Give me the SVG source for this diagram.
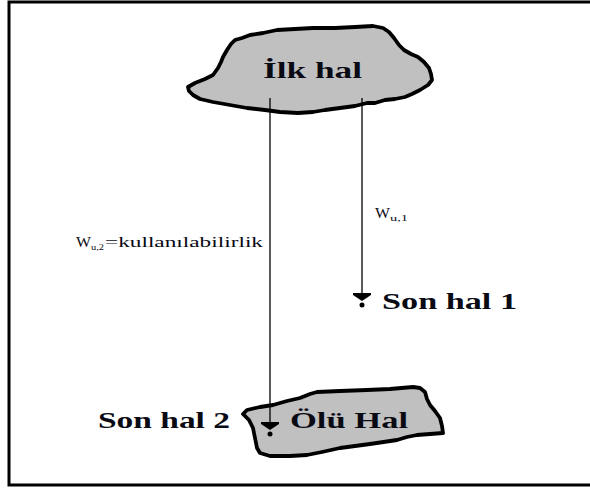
<svg xmlns="http://www.w3.org/2000/svg" width="590" height="488" viewBox="0 0 590 488">
<style>
.blob{fill:#c0c0c0;stroke:#000;stroke-width:3.8;stroke-linejoin:round}
.big{font-family:"Liberation Serif","Times New Roman",serif;font-weight:bold;font-size:24px;fill:#0a0a14}
.small{font-family:"Liberation Serif","Times New Roman",serif;font-size:15px;fill:#0a0a14}
.sub{font-family:"Liberation Serif","Times New Roman",serif;font-size:8px;fill:#0a0a14}
.conn{stroke:#000;stroke-width:1.3;fill:none}
</style>
<defs>
<g id="ahead">
<polygon points="-9,-1 9,-1 9,1 0,7 -9,1" fill="#000"/>
<circle cx="0" cy="11" r="2.5" fill="#000"/>
</g>
</defs>
<rect width="590" height="488" fill="#fff"/>
<path id="frame" d="M590 2 H9 V485 H590" fill="none" stroke="#000" stroke-width="3"/>
<g id="node-ilk">
<path class="blob" d="M235 40 L242 38 L250 35 L263 33 L277 30 L295 29 L313 28 L335 28 L355 27 L373 26 L383 28 L389 32 L394 38 L399 45 L404 50 L411 54 L418 57 L424 62 L429 68 L431 74 L432 80 L428 85 L420 90 L412 94 L405 97 L395 99 L385 100 L375 103 L367 103 L355 106 L340 108 L325 110 L313 112 L298 113 L280 112 L265 110 L247 108 L230 105 L213 102 L200 99 L193 95 L189 91 L188 87 L195 83 L205 79 L213 75 L218 68 L221 62 L223 57 L227 50 L231 44 Z"/>
<text class="big" x="263" y="78" textLength="99" lengthAdjust="spacingAndGlyphs">İlk hal</text>
</g>
<g id="node-olu">
<path class="blob" d="M247 410 L260 407 L273 405 L287 401 L300 398 L310 394 L317 392 L340 391 L367 390 L390 389 L413 387 L420 388 L425 392 L427 399 L430 405 L435 411 L440 418 L442 426 L443 433 L430 434 L417 435 L407 437 L397 440 L370 444 L340 448 L322 452 L307 455 L290 456 L270 456 L260 453 L257 448 L255 438 L253 428 L249 420 L243 414 Z"/>
<text class="big" x="290" y="428" textLength="118" lengthAdjust="spacingAndGlyphs">Ölü Hal</text>
</g>
<g id="node-son1">
<text class="big" x="382" y="309" textLength="135" lengthAdjust="spacingAndGlyphs">Son hal 1</text>
</g>
<g id="node-son2">
<text class="big" x="98" y="428" textLength="132" lengthAdjust="spacingAndGlyphs">Son hal 2</text>
</g>
<g id="connectors">
<line class="conn" x1="362" y1="98" x2="362" y2="294"/>
<use href="#ahead" x="362" y="294"/>
<line class="conn" x1="270" y1="98" x2="270" y2="423"/>
<use href="#ahead" x="270" y="423"/>
<g id="label-w1">
<text class="small" x="375" y="218" textLength="15" lengthAdjust="spacingAndGlyphs">W</text>
<text class="sub" x="390" y="221" textLength="18" lengthAdjust="spacingAndGlyphs">u,1</text>
</g>
<g id="label-w2">
<text class="small" x="76" y="247" textLength="15" lengthAdjust="spacingAndGlyphs">W</text>
<text class="sub" x="91" y="250" textLength="13" lengthAdjust="spacingAndGlyphs">u,2</text>
<text class="small" x="105" y="247" textLength="158" lengthAdjust="spacingAndGlyphs">=kullanılabilirlik</text>
</g>
</g>
</svg>
